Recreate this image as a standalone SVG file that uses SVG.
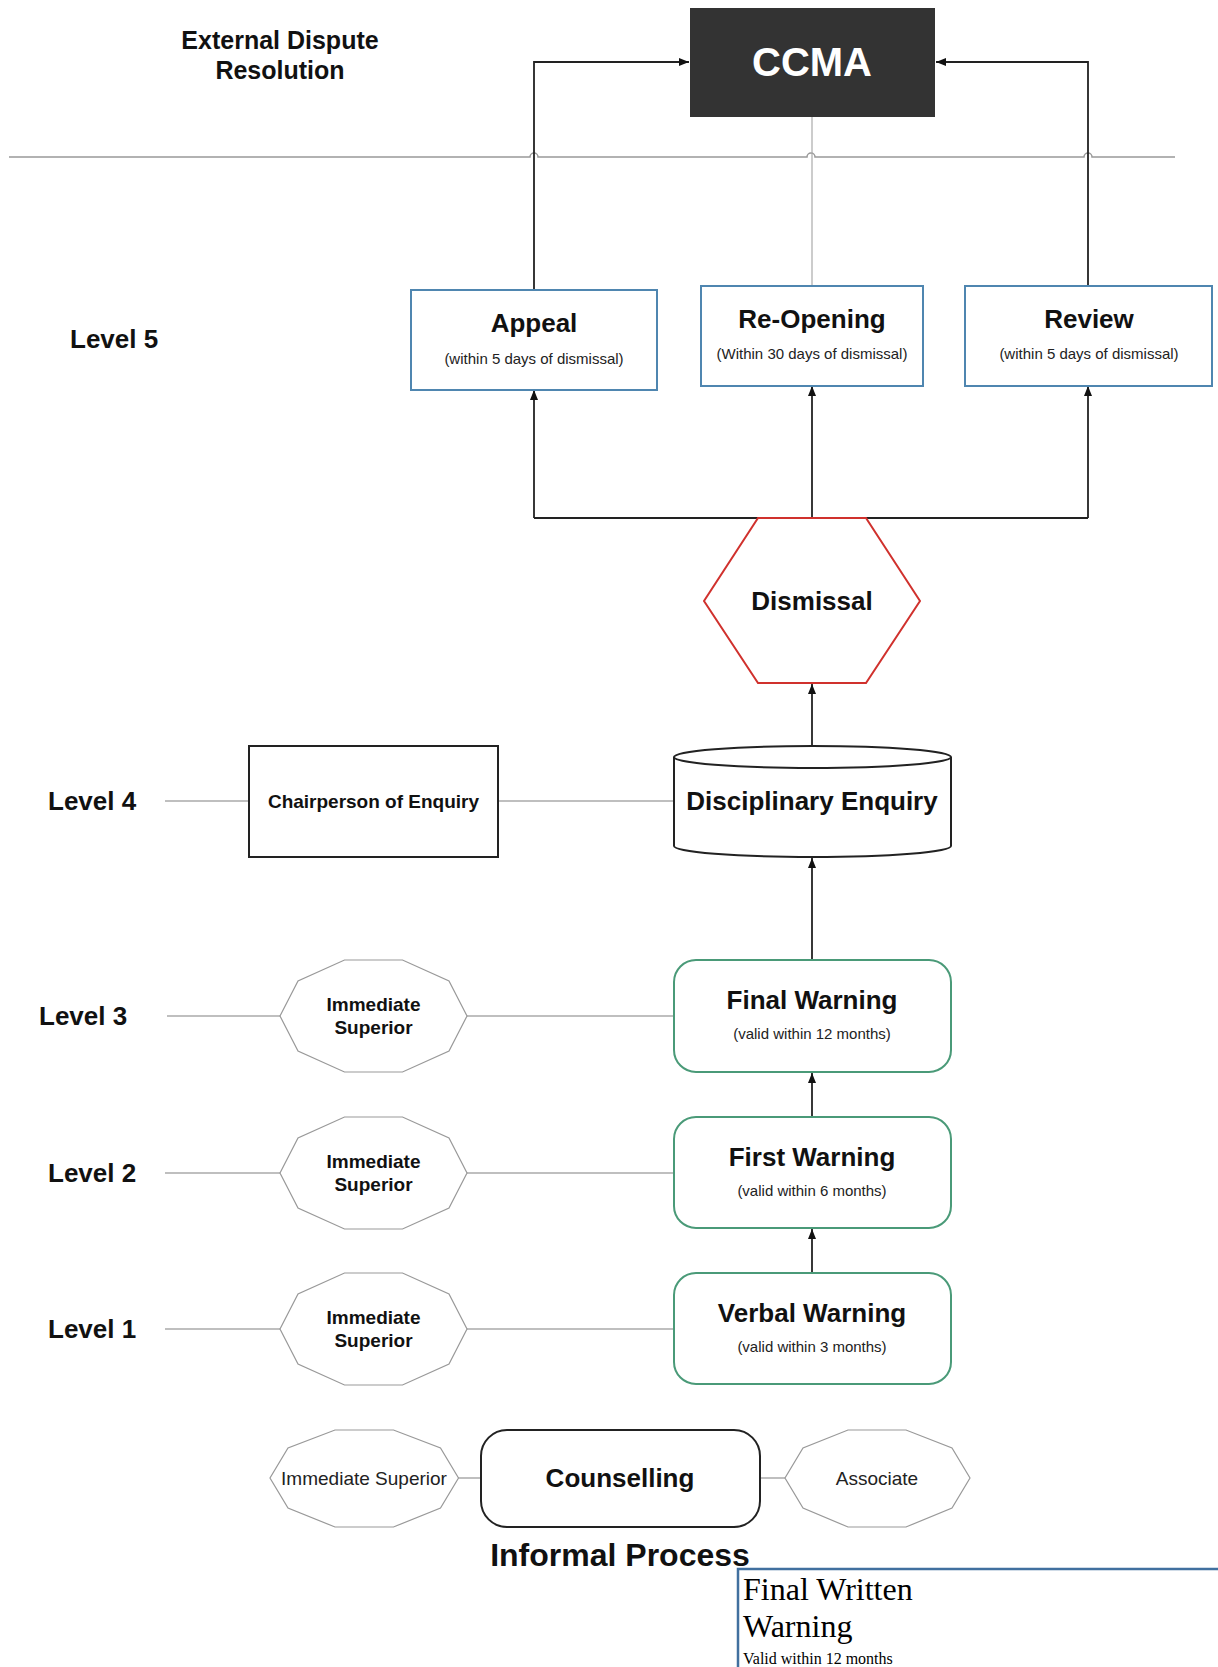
<svg xmlns="http://www.w3.org/2000/svg" width="1218" height="1667" viewBox="0 0 1218 1667">
<defs>
<marker id="arr" markerWidth="10" markerHeight="8" refX="10" refY="4" orient="auto" markerUnits="userSpaceOnUse">
<path d="M0,0 L10,4 L0,8 z" fill="#111"/>
</marker>
<style>
.b{font-family:"Liberation Sans",Arial,sans-serif;font-weight:bold;fill:#111}
.r{font-family:"Liberation Sans",Arial,sans-serif;fill:#222}
.c{text-anchor:middle}
.blue{fill:#fff;stroke:#4f86b0;stroke-width:2}
.green{fill:#fff;stroke:#4a9a78;stroke-width:2}
.dec{fill:#fff;stroke:#999;stroke-width:1.2}
.gl{stroke:#aaa;stroke-width:1.5;fill:none}
.k{stroke:#222;stroke-width:2;fill:none}
.ka{stroke:#222;stroke-width:1.8;fill:none;marker-end:url(#arr)}
</style>
</defs>
<rect width="1218" height="1667" fill="#fff"/>

<g id="connectors">
<path d="M9 157 H530 a4 4 0 0 1 8 0 H807 a4 4 0 0 1 8 0 H1084 a4 4 0 0 1 8 0 H1175" stroke="#999" stroke-width="1.5" fill="none"/>
<path class="ka" d="M534 290 V62 H689"/>
<path class="ka" d="M1088 286 V62 H936"/>
<path d="M812 117 V286" stroke="#aaa" stroke-width="1.2" fill="none"/>
<path class="k" d="M534 518 H1088"/>
<path class="ka" d="M534 518 V390"/>
<path class="ka" d="M812 518 V386"/>
<path class="ka" d="M1088 518 V386"/>
<path class="ka" d="M812 746 V684"/>
<path class="ka" d="M812 960 V858"/>
<path class="ka" d="M812 1117 V1073"/>
<path class="ka" d="M812 1273 V1229"/>
<path class="gl" d="M165 801 H249 M498 801 H674"/>
<path class="gl" d="M167 1016 H280 M467 1016 H674"/>
<path class="gl" d="M165 1173 H280 M467 1173 H674"/>
<path class="gl" d="M165 1329 H280 M467 1329 H674"/>
<path class="gl" d="M458 1478 H481 M760 1478 H785"/>
</g>

<g id="title-external">
<text class="b c" x="280" y="49" font-size="25">External Dispute</text>
<text class="b c" x="280" y="79" font-size="25">Resolution</text>
</g>

<g id="ccma">
<rect x="690" y="8" width="245" height="109" fill="#333"/>
<text class="c" x="812" y="76" font-family="Liberation Sans,Arial,sans-serif" font-weight="bold" font-size="40" fill="#fff">CCMA</text>
</g>

<g id="level5"><text class="b" x="70" y="348" font-size="26">Level 5</text></g>

<g id="appeal">
<rect class="blue" x="411" y="290" width="246" height="100"/>
<text class="b c" x="534" y="332" font-size="26">Appeal</text>
<text class="r c" x="534" y="364" font-size="15">(within 5 days of dismissal)</text>
</g>
<g id="reopening">
<rect class="blue" x="701" y="286" width="222" height="100"/>
<text class="b c" x="812" y="328" font-size="26">Re-Opening</text>
<text class="r c" x="812" y="359" font-size="15">(Within 30 days of dismissal)</text>
</g>
<g id="review">
<rect class="blue" x="965" y="286" width="247" height="100"/>
<text class="b c" x="1089" y="328" font-size="26">Review</text>
<text class="r c" x="1089" y="359" font-size="15">(within 5 days of dismissal)</text>
</g>

<g id="dismissal">
<polygon points="758,518 866,518 920,601 866,683 758,683 704,601" fill="#fff" stroke="#d0312d" stroke-width="2"/>
<text class="b c" x="812" y="610" font-size="26">Dismissal</text>
</g>

<g id="level4"><text class="b" x="48" y="810" font-size="26">Level 4</text></g>
<g id="chairperson">
<rect x="249" y="746" width="249" height="111" fill="#fff" stroke="#222" stroke-width="2"/>
<text class="b c" x="373.5" y="808" font-size="19">Chairperson of Enquiry</text>
</g>
<g id="enquiry">
<path d="M674 757 A138.5 11 0 0 1 951 757 V846 A138.5 11 0 0 1 674 846 Z" fill="#fff" stroke="#222" stroke-width="2"/>
<path d="M674 757 A138.5 11 0 0 0 951 757" fill="none" stroke="#222" stroke-width="2"/>
<text class="b c" x="812" y="810" font-size="26">Disciplinary Enquiry</text>
</g>

<g id="level3"><text class="b" x="39" y="1025" font-size="26">Level 3</text></g>
<g id="sup3">
<polygon class="dec" points="344.5,960 402.5,960 449,981 467,1016 449,1051 402.5,1072 344.5,1072 298,1051 280,1016 298,981"/>
<text class="b c" x="373.5" y="1011" font-size="19">Immediate</text>
<text class="b c" x="373.5" y="1034" font-size="19">Superior</text>
</g>
<g id="final">
<rect class="green" x="674" y="960" width="277" height="112" rx="22"/>
<text class="b c" x="812" y="1009" font-size="26">Final Warning</text>
<text class="r c" x="812" y="1039" font-size="15">(valid within 12 months)</text>
</g>

<g id="level2"><text class="b" x="48" y="1182" font-size="26">Level 2</text></g>
<g id="sup2">
<polygon class="dec" points="344.5,1117 402.5,1117 449,1138 467,1173 449,1208 402.5,1229 344.5,1229 298,1208 280,1173 298,1138"/>
<text class="b c" x="373.5" y="1168" font-size="19">Immediate</text>
<text class="b c" x="373.5" y="1191" font-size="19">Superior</text>
</g>
<g id="first">
<rect class="green" x="674" y="1117" width="277" height="111" rx="22"/>
<text class="b c" x="812" y="1166" font-size="26">First Warning</text>
<text class="r c" x="812" y="1196" font-size="15">(valid within 6 months)</text>
</g>

<g id="level1"><text class="b" x="48" y="1338" font-size="26">Level 1</text></g>
<g id="sup1">
<polygon class="dec" points="344.5,1273 402.5,1273 449,1294 467,1329 449,1364 402.5,1385 344.5,1385 298,1364 280,1329 298,1294"/>
<text class="b c" x="373.5" y="1324" font-size="19">Immediate</text>
<text class="b c" x="373.5" y="1347" font-size="19">Superior</text>
</g>
<g id="verbal">
<rect class="green" x="674" y="1273" width="277" height="111" rx="22"/>
<text class="b c" x="812" y="1322" font-size="26">Verbal Warning</text>
<text class="r c" x="812" y="1352" font-size="15">(valid within 3 months)</text>
</g>

<g id="sup0">
<polygon class="dec" points="335,1430 393.5,1430 440.5,1448 458.5,1478 440.5,1508 393.5,1527 335,1527 288,1508 270,1478 288,1448"/>
<text class="r c" x="364" y="1485" font-size="19">Immediate Superior</text>
</g>
<g id="counselling">
<rect x="481" y="1430" width="279" height="97" rx="26" fill="#fff" stroke="#222" stroke-width="2"/>
<text class="b c" x="620" y="1487" font-size="26">Counselling</text>
</g>
<g id="associate">
<polygon class="dec" points="848,1430 906,1430 952,1448 970,1478 952,1508 906,1527 848,1527 803,1508 785,1478 803,1448"/>
<text class="r c" x="877" y="1485" font-size="19">Associate</text>
</g>
<g id="informal"><text class="b c" x="620" y="1566" font-size="32">Informal Process</text></g>

<g id="final-written">
<rect x="738" y="1569" width="500" height="120" fill="#fff" stroke="#41709f" stroke-width="2.5"/>
<text x="743" y="1600" font-family="Liberation Serif,Times New Roman,serif" font-size="32" fill="#000">Final Written</text>
<text x="743" y="1637" font-family="Liberation Serif,Times New Roman,serif" font-size="32" fill="#000">Warning</text>
<text x="743" y="1664" font-family="Liberation Serif,Times New Roman,serif" font-size="16" fill="#000">Valid within 12 months</text>
</g>
</svg>
